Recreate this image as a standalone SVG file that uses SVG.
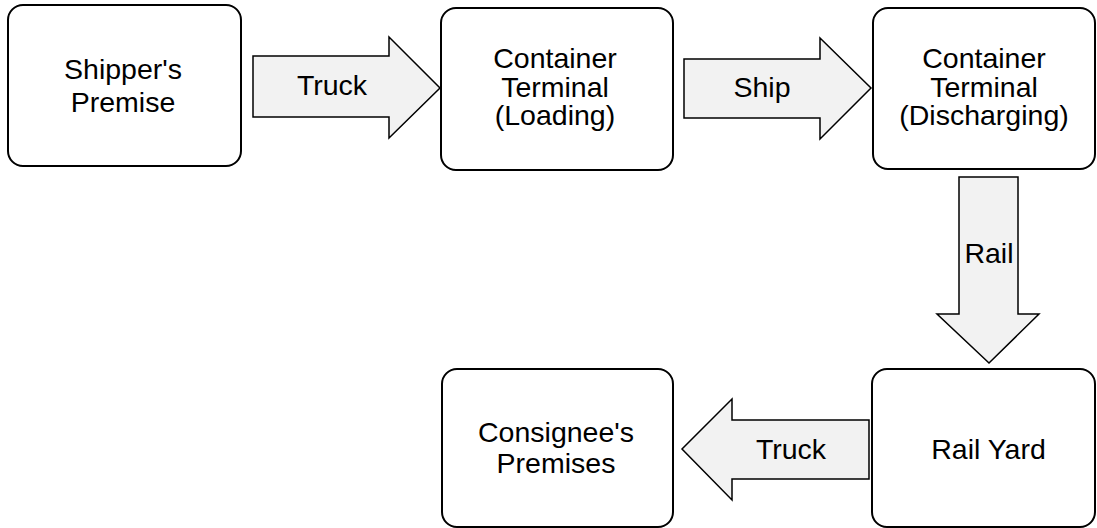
<svg xmlns="http://www.w3.org/2000/svg" width="1097" height="528" viewBox="0 0 1097 528">
<style>
.box{fill:#ffffff;stroke:#000000;stroke-width:2}
.arr{fill:#f2f2f2;stroke:#000000;stroke-width:1.5;stroke-linejoin:miter}
text{font-family:"Liberation Sans",Arial,sans-serif;font-size:28.5px;fill:#000000;text-anchor:middle}
</style>
<rect width="1097" height="528" fill="#ffffff"/>
<g id="connectors">
<g id="c-truck1"><polygon class="arr" points="253,56 389,56 389,37 440,88 389,138 389,117 253,117"/><text x="332" y="95">Truck</text></g>
<g id="c-ship"><polygon class="arr" points="684,59 820,59 820,38 871,88 820,139 820,118 684,118"/><text x="762" y="97">Ship</text></g>
<g id="c-rail"><polygon class="arr" points="959,177 1018,177 1018,314 1039,314 989,363 937,314 959,314"/><text x="989" y="263">Rail</text></g>
<g id="c-truck2"><polygon class="arr" points="869,420 732,420 732,399 682,449 732,500 732,479 869,479"/><text x="791" y="459">Truck</text></g>
</g>
<g id="n-shipper"><rect class="box" x="8" y="5" width="233" height="161" rx="15"/><text x="123" y="78.5">Shipper's</text><text x="123" y="111.5">Premise</text></g>
<g id="n-loading"><rect class="box" x="441" y="8" width="232" height="162" rx="15"/><text x="555" y="68">Container</text><text x="555" y="97">Terminal</text><text x="555" y="125">(Loading)</text></g>
<g id="n-discharging"><rect class="box" x="873" y="8" width="222" height="161" rx="15"/><text x="984" y="68">Container</text><text x="984" y="97">Terminal</text><text x="984" y="125">(Discharging)</text></g>
<g id="n-consignee"><rect class="box" x="442" y="369" width="231" height="158" rx="15"/><text x="556" y="442">Consignee's</text><text x="556" y="473">Premises</text></g>
<g id="n-railyard"><rect class="box" x="872" y="369" width="223" height="158" rx="15"/><text x="988.5" y="459">Rail Yard</text></g>
</svg>
